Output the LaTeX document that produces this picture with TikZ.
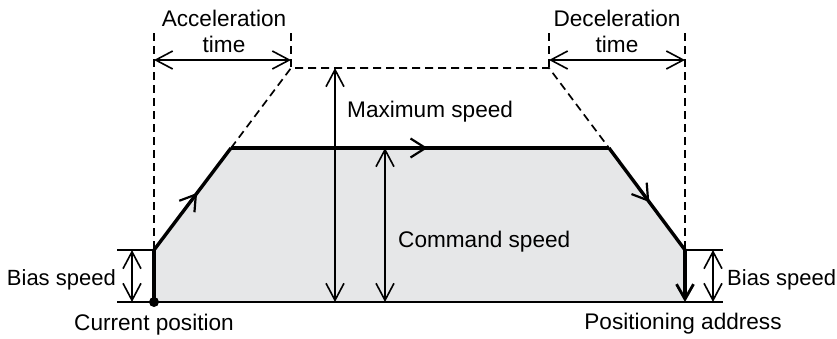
\documentclass[tikz,border=0pt]{standalone}
\usepackage{fontspec}
\setmainfont{Liberation Sans}
\usetikzlibrary{arrows.meta,decorations.markings}
\begin{document}
\begin{tikzpicture}[x=1pt,y=-1pt,
  thinln/.style={line width=1.8pt},
  thickln/.style={line width=3.4pt},
  dashln/.style={line width=1.7pt, dash pattern=on 8pt off 5pt},
  barb/.tip={Straight Barb[length=17pt,width=18pt,line width=1.6pt]},
  dim/.style={thinln, barb-barb},
  midarrow/.style={postaction={decorate,decoration={markings,
     mark=at position #1 with {\arrow{Straight Barb[length=15pt,width=19pt,line width=2.2pt]}}}}},
  lbl/.style={font=\fontsize{22.6}{26}\selectfont, inner sep=0pt},
  biaslbl/.style={font=\fontsize{22}{26}\selectfont, inner sep=0pt}]
\useasboundingbox (0,0) rectangle (837,338);

% key points
\coordinate (P0) at (154,302);
\coordinate (P1) at (154,250);
\coordinate (P2) at (231,148);
\coordinate (P3) at (609,148);
\coordinate (P4) at (685,250);
\coordinate (P5) at (685,302);
\coordinate (M1) at (291,68);
\coordinate (M2) at (549,68);
\coordinate (BL) at (117,302);
\coordinate (BR) at (723,302);
\coordinate (TL) at (117,250);
\coordinate (TR) at (723,250);
\coordinate (VL) at (154,33);
\coordinate (VR) at (685,33);
\coordinate (VA) at (291,33);
\coordinate (VD) at (549,33);
\coordinate (AL) at (154,60);
\coordinate (AR) at (291,60);
\coordinate (DL) at (549,60);
\coordinate (DR) at (685,60);
\coordinate (MXt) at (335,68);
\coordinate (MXb) at (335,302);
\coordinate (CMt) at (385,148);
\coordinate (CMb) at (385,302);
\coordinate (BLt) at (132,250);
\coordinate (BLb) at (132,302);
\coordinate (BRt) at (713,250);
\coordinate (BRb) at (713,302);

% fill
\fill[fill={rgb,255:red,230;green,231;blue,232}] (P0) -- (P1) -- (P2) -- (P3) -- (P4) -- (P5) -- cycle;

% dashed lines
\draw[dashln] (VL) -- (P1);
\draw[dashln] (VR) -- (P4);
\draw[dashln] (VA) -- (M1);
\draw[dashln] (VD) -- (M2);
\draw[dashln] (P2) -- (M1) -- (M2) -- (P3);

% baseline and ticks
\draw[thinln] (BL) -- (BR);
\draw[thinln] (TL) -- (P1);
\draw[thinln] (P4) -- (TR);

% dimension arrows
\draw[dim] (AL) -- (AR);
\draw[dim] (DL) -- (DR);
\draw[dim] (MXt) -- (MXb);
\draw[dim] (CMt) -- (CMb);
\draw[dim] (BLt) -- (BLb);
\draw[dim] (BRt) -- (BRb);

% speed profile
\draw[thickln, line join=miter] (P0) -- (P1);
\draw[thickln, midarrow=0.56] (P1) -- (P2);
\draw[thickln, midarrow=0.52] (P2) -- (P3);
\draw[thickln, midarrow=0.53] (P3) -- (P4);
\draw[thickln, -{Straight Barb[length=15pt,width=17pt,line width=2.8pt]}] (P4) -- (P5);
\fill (P0) circle (5pt);

% labels
\node[lbl, anchor=base] (acc1) at (224,26) {Acceleration};
\node[lbl, anchor=base] (acc2) at (224,52) {time};
\node[lbl, anchor=base] (dec1) at (617,26) {Deceleration};
\node[lbl, anchor=base] (dec2) at (617,52) {time};
\node[lbl, anchor=base west] (maxs) at (347,117) {Maximum speed};
\node[lbl, anchor=base west] (cmds) at (398,247) {Command speed};
\node[biaslbl, anchor=base east] (bias1) at (116,285) {Bias speed};
\node[biaslbl, anchor=base west] (bias2) at (727,285) {Bias speed};
\node[lbl, anchor=base] (curp) at (154,330) {Current position};
\node[lbl, anchor=base] (posa) at (683,329) {Positioning address};
\end{tikzpicture}
\end{document}
